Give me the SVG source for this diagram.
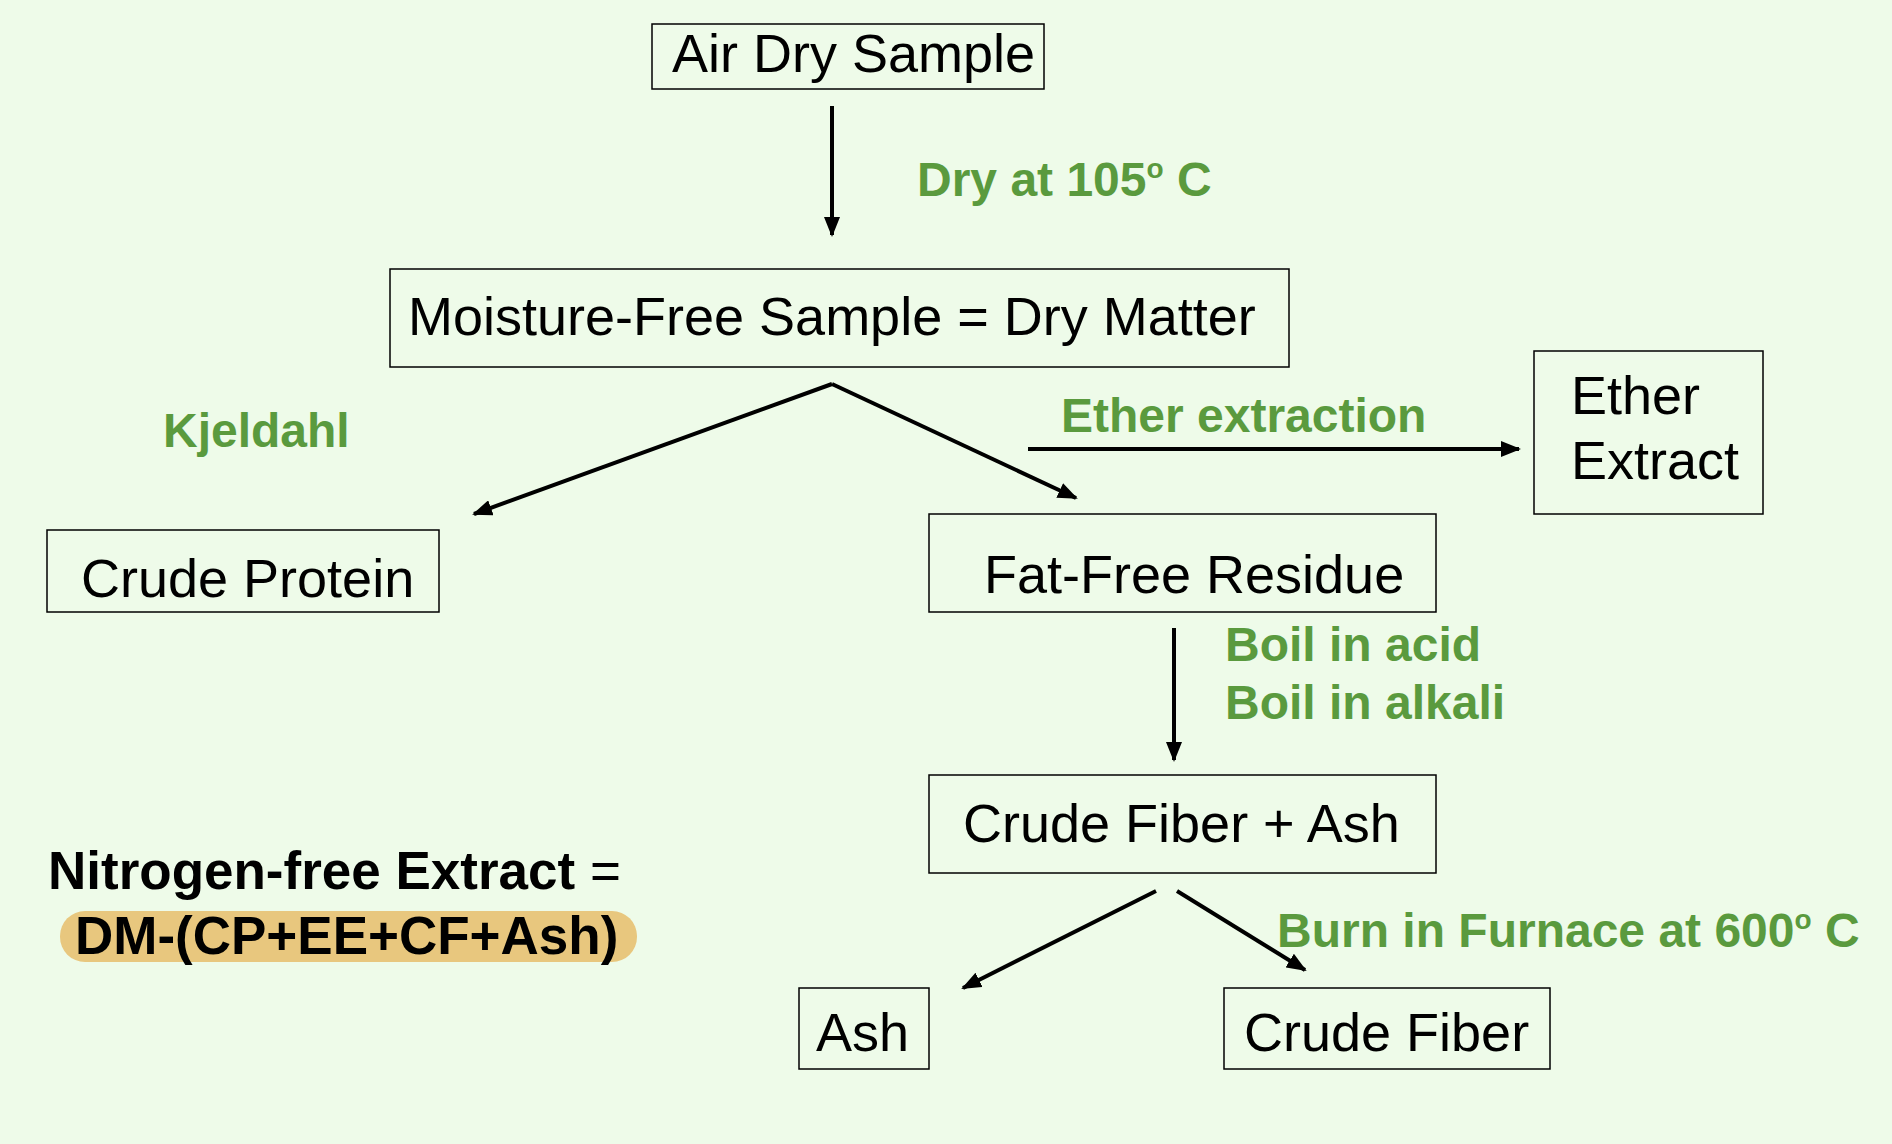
<svg xmlns="http://www.w3.org/2000/svg" width="1892" height="1144" viewBox="0 0 1892 1144">
<defs>
<marker id="ah" markerWidth="20" markerHeight="16" refX="18" refY="8" orient="auto" markerUnits="userSpaceOnUse" viewBox="0 0 20 16"><path d="M0,0 L20,8 L0,16 z" fill="#000"/></marker>
<style>
.box{fill:none;stroke:#000;stroke-width:1.5}
.t{font-family:"Liberation Sans",Arial,sans-serif;font-size:54px;fill:#000}
.g{font-family:"Liberation Sans",Arial,sans-serif;font-size:48px;font-weight:bold;fill:#5a9a3e}
.b{font-family:"Liberation Sans",Arial,sans-serif;font-size:53px;font-weight:bold;fill:#000}
.c{stroke:#000;stroke-width:4;fill:none;marker-end:url(#ah)}
</style>
</defs>
<rect width="1892" height="1144" fill="#eefbe9"/>
<g id="connectors">
<line class="c" x1="832" y1="106" x2="832" y2="235"/>
<line class="c" x1="832" y1="384" x2="474" y2="514"/>
<line class="c" x1="832" y1="384" x2="1076" y2="498"/>
<line class="c" x1="1028" y1="449" x2="1519" y2="449"/>
<line class="c" x1="1174" y1="628" x2="1174" y2="760"/>
<line class="c" x1="1156" y1="891" x2="963" y2="988"/>
<line class="c" x1="1177" y1="891" x2="1305" y2="970"/>
</g>
<g id="labels">
<text class="g" x="917" y="196">Dry at 105<tspan font-size="28" dy="-18">o</tspan><tspan dy="18"> C</tspan></text>
<text class="g" x="163" y="447">Kjeldahl</text>
<text class="g" x="1061" y="432">Ether extraction</text>
<text class="g" x="1225" y="661">Boil in acid</text>
<text class="g" x="1225" y="719">Boil in alkali</text>
<text class="g" x="1277" y="947">Burn in Furnace at 600<tspan font-size="28" dy="-18">o</tspan><tspan dy="18"> C</tspan></text>
</g>
<g id="air"><rect class="box" x="652" y="24" width="392" height="65"/><text class="t" x="672" y="72">Air Dry Sample</text></g>
<g id="moisture"><rect class="box" x="390" y="269" width="899" height="98"/><text class="t" x="408" y="335">Moisture-Free Sample = Dry Matter</text></g>
<g id="ether"><rect class="box" x="1534" y="351" width="229" height="163"/><text class="t" x="1571" y="414">Ether</text><text class="t" x="1571" y="479">Extract</text></g>
<g id="protein"><rect class="box" x="47" y="530" width="392" height="82"/><text class="t" x="81" y="597">Crude Protein</text></g>
<g id="fatfree"><rect class="box" x="929" y="514" width="507" height="98"/><text class="t" x="984" y="593">Fat-Free Residue</text></g>
<g id="cfash"><rect class="box" x="929" y="775" width="507" height="98"/><text class="t" x="963" y="842">Crude Fiber + Ash</text></g>
<g id="ash"><rect class="box" x="799" y="988" width="130" height="81"/><text class="t" x="816" y="1051">Ash</text></g>
<g id="fiber"><rect class="box" x="1224" y="988" width="326" height="81"/><text class="t" x="1244" y="1051">Crude Fiber</text></g>
<g id="nfe">
<text class="b" x="48" y="889">Nitrogen-free Extract <tspan font-weight="normal">=</tspan></text>
<rect x="60" y="911" width="577" height="51" rx="25" fill="#e8c77e"/>
<text class="b" x="75" y="954">DM-(CP+EE+CF+Ash)</text>
</g>
</svg>
